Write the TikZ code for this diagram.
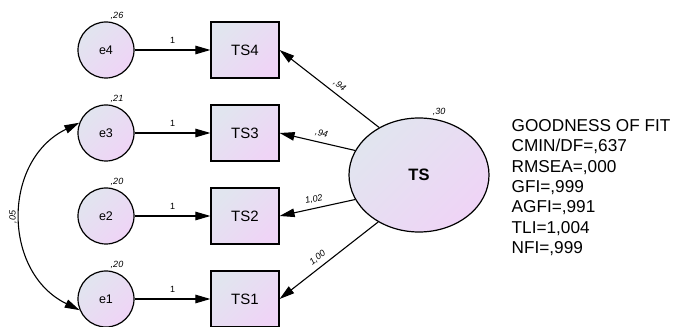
\documentclass[tikz,border=0pt]{standalone}
\usepackage{fontspec}
\setmainfont{Liberation Sans}
\usetikzlibrary{arrows.meta,shapes.geometric}

\definecolor{fillA}{RGB}{225,229,239}
\definecolor{fillB}{RGB}{239,212,246}

\tikzset{
  semfill/.style={draw=black, line width=1.2pt, top color=fillA, bottom color=fillB, shading angle=45},
  errnode/.style={semfill, circle, minimum size=56pt, inner sep=0pt, font=\fontsize{12.5}{14}\selectfont},
  obsnode/.style={semfill, rectangle, minimum width=68pt, minimum height=56pt, inner sep=0pt, font=\fontsize{15}{17}\selectfont},
  latnode/.style={semfill, ellipse, minimum width=140pt, minimum height=114pt, inner sep=0pt, font=\bfseries\fontsize{16.5}{18}\selectfont},
  arr/.style={line width=1.1pt, -{Triangle[length=15pt,width=8.5pt]}},
  arrboth/.style={line width=1.1pt, {Triangle[length=15pt,width=8.5pt]}-{Triangle[length=15pt,width=8.5pt]}},
  onelab/.style={above=4.5pt, inner sep=1pt, font=\fontsize{9}{10}\selectfont},
  reglab/.style={sloped, above=3.5pt, inner sep=1pt, font=\itshape\fontsize{9}{10}\selectfont},
  varlab/.style={inner sep=0pt, font=\itshape\fontsize{9}{10}\selectfont}
}

\begin{document}
\begin{tikzpicture}[x=1pt, y=1pt]
\useasboundingbox (0,0) rectangle (676,326);

% error terms
\node[errnode] (e4) at (106,276) {e4};
\node[errnode] (e3) at (106,193) {e3};
\node[errnode] (e2) at (106,110) {e2};
\node[errnode] (e1) at (106,27) {e1};

% observed indicators
\node[obsnode] (TS4) at (245,276) {TS4};
\node[obsnode] (TS3) at (245,193) {TS3};
\node[obsnode] (TS2) at (245,110) {TS2};
\node[obsnode] (TS1) at (245,27) {TS1};

% latent factor
\node[latnode] (TS) at (419,151) {TS};

% error paths
\draw[arr] (e4) -- node[onelab]{1} (TS4);
\draw[arr] (e3) -- node[onelab]{1} (TS3);
\draw[arr] (e2) -- node[onelab]{1} (TS2);
\draw[arr] (e1) -- node[onelab]{1} (TS1);

% factor loadings
\draw[arr] (TS.130) -- node[reglab, pos=0.45]{,94} (TS4.east);
\draw[arr] (TS.159) -- node[reglab, pos=0.47]{,94} (TS3.east);
\draw[arr] (TS.201) -- node[reglab, pos=0.52]{1,02} (TS2.east);
\draw[arr] (TS.229) -- node[reglab, pos=0.56]{1,00} (TS1.east);

% error covariance
\draw[arrboth] (e3.159) to[out=206, in=154, looseness=1.175] (e1.203);
\node[varlab, rotate=90] (cov) at (13,109) {,05};

% variances
\node[varlab] (v4) at ([shift={(11,34)}]e4.center) {,26};
\node[varlab] (v3) at ([shift={(11,34)}]e3.center) {,21};
\node[varlab] (v2) at ([shift={(11,34)}]e2.center) {,20};
\node[varlab] (v1) at ([shift={(11,34)}]e1.center) {,20};
\node[varlab] (vTS) at ([shift={(20,63)}]TS.center) {,30};

% fit statistics
\node[anchor=north west, inner sep=0pt, align=left,
      font=\fontsize{17.2}{20.4}\selectfont] (fit) at (511.5,207)
  {GOODNESS OF FIT\\CMIN/DF=,637\\RMSEA=,000\\GFI=,999\\AGFI=,991\\TLI=1,004\\NFI=,999};
\end{tikzpicture}
\end{document}
